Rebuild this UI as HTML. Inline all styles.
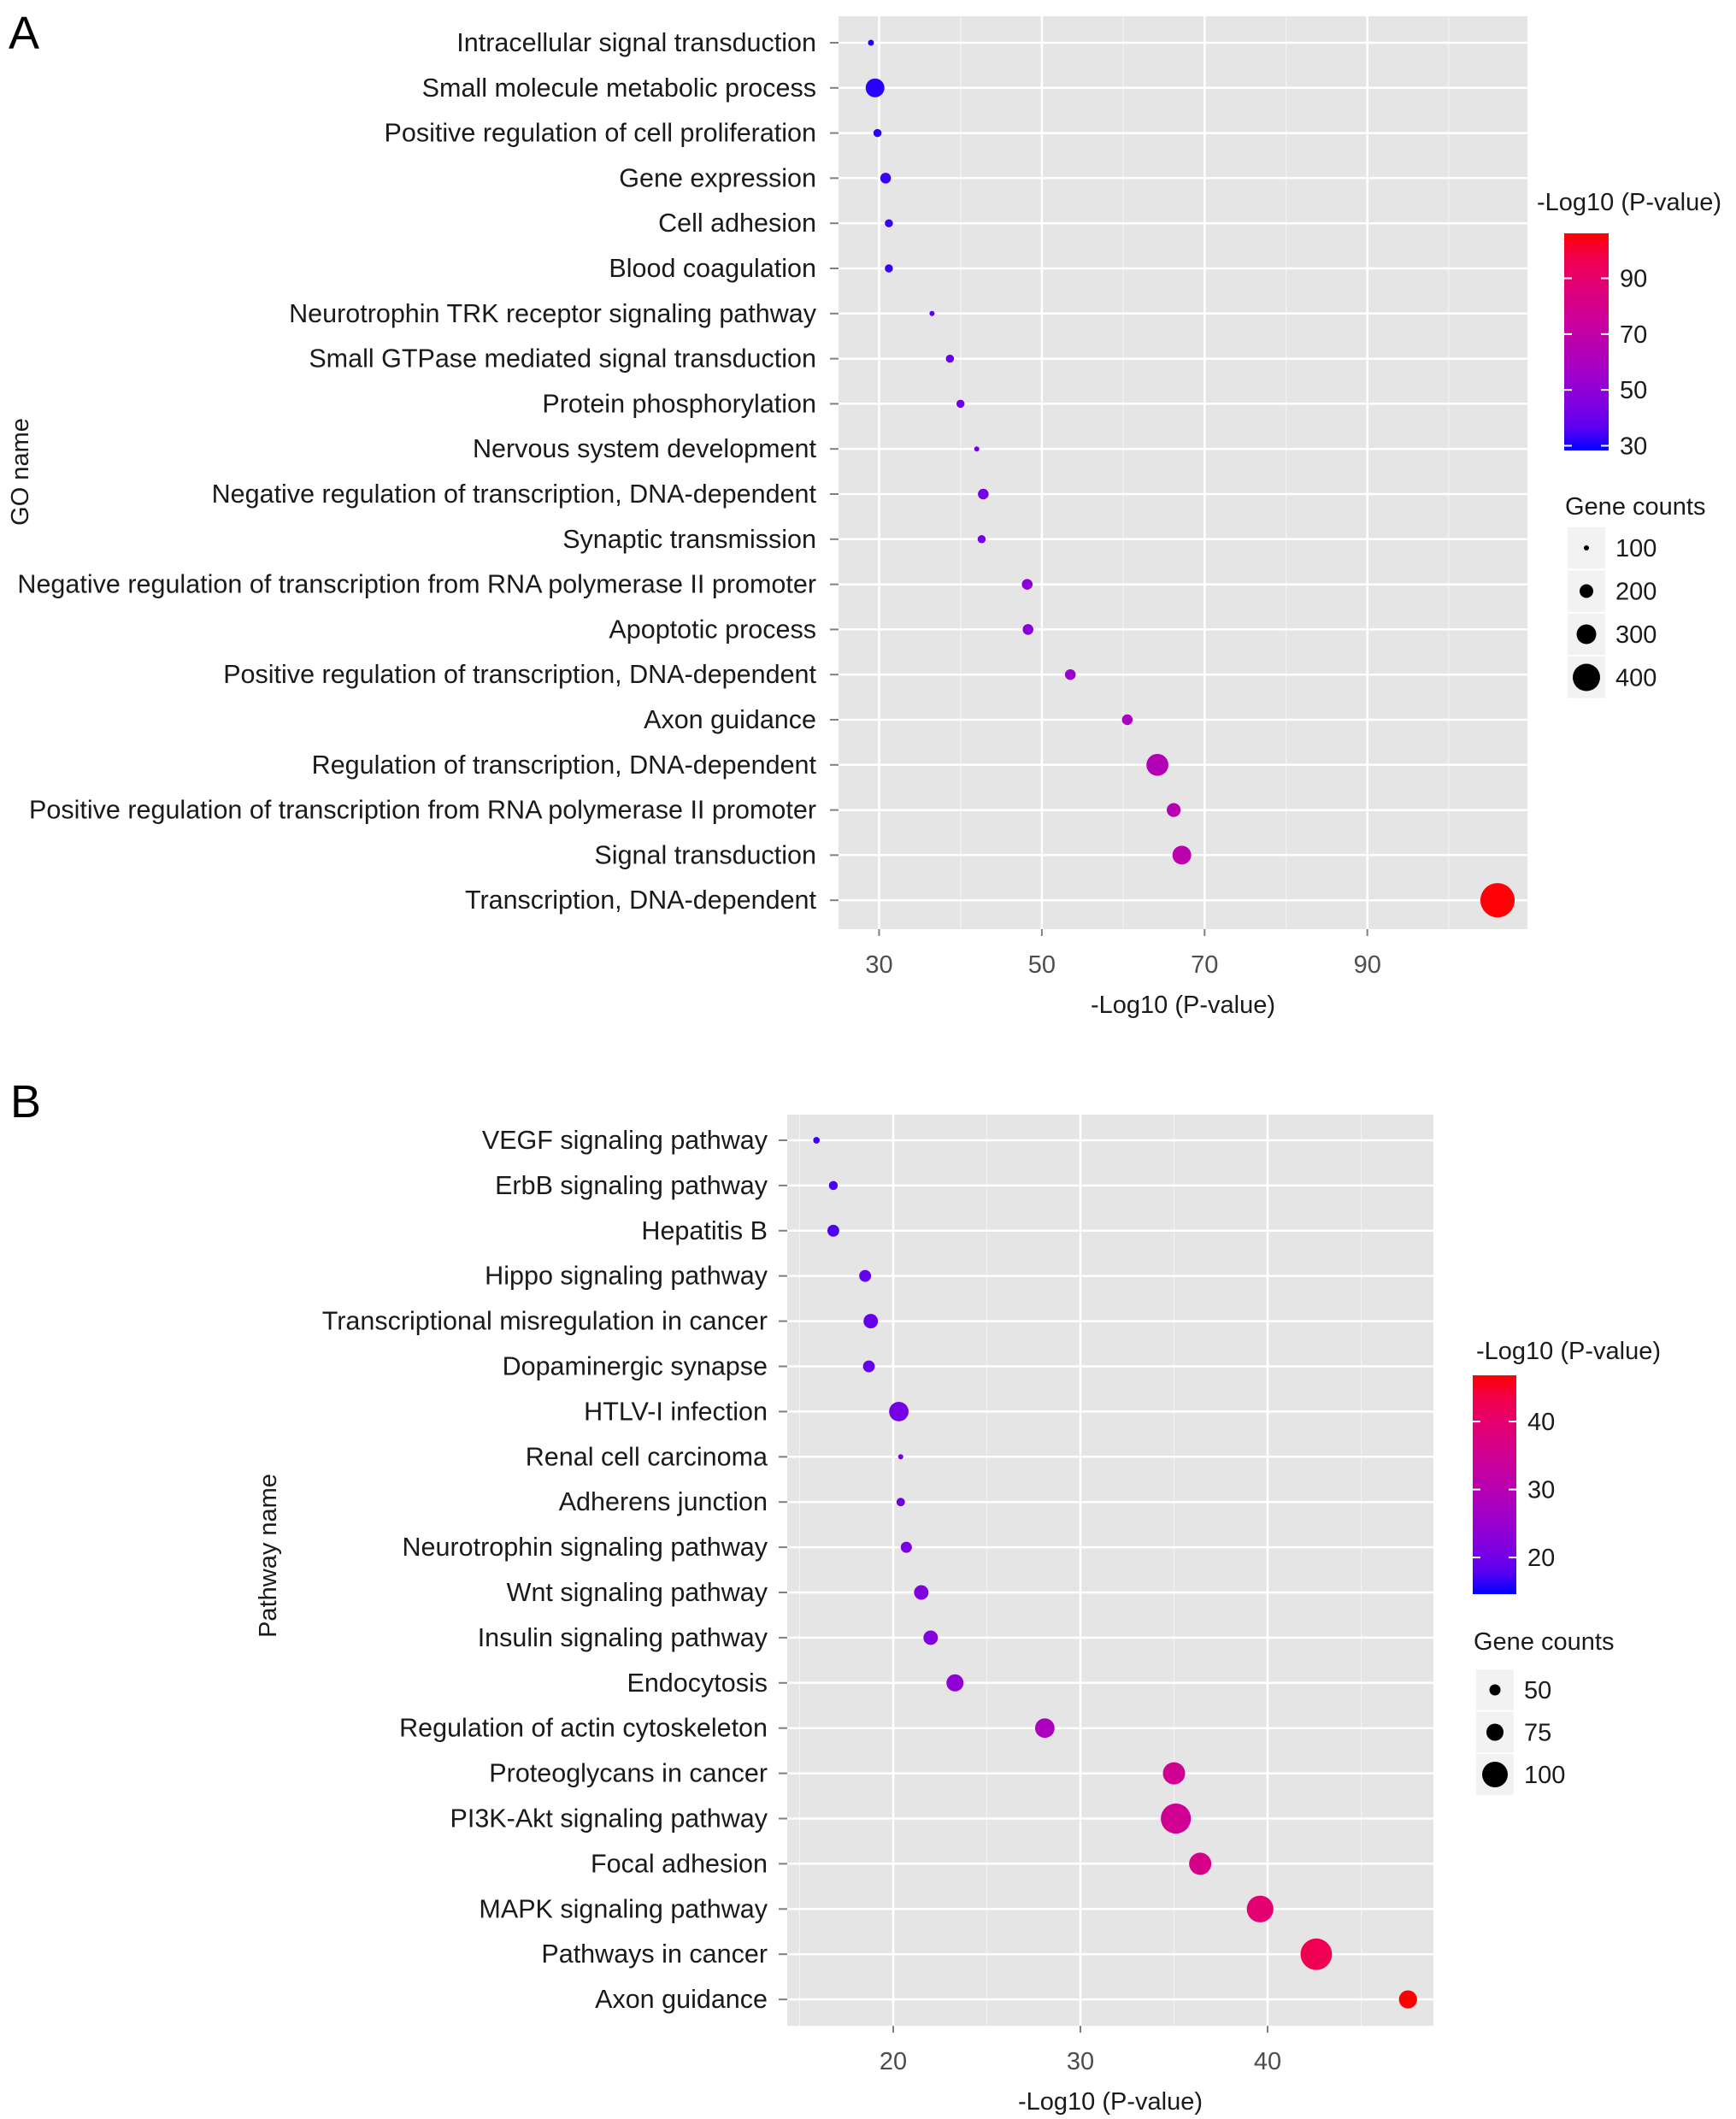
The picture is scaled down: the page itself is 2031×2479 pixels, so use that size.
<!DOCTYPE html>
<html><head><meta charset="utf-8"><style>
body{margin:0;background:#fff}
svg{display:block;font-family:"Liberation Sans",Arial,sans-serif}
</style></head><body>
<svg id="chart" width="2031" height="2479" viewBox="0 0 2031 2479" xmlns="http://www.w3.org/2000/svg">
<rect width="2031" height="2479" fill="#fff"/>
<g id="pa"></g>
<g id="pb"></g>
</svg>
<script>
const goTerms=["Intracellular signal transduction","Small molecule metabolic process","Positive regulation of cell proliferation","Gene expression","Cell adhesion","Blood coagulation","Neurotrophin TRK receptor signaling pathway","Small GTPase mediated signal transduction","Protein phosphorylation","Nervous system development","Negative regulation of transcription, DNA-dependent","Synaptic transmission","Negative regulation of transcription from RNA polymerase II promoter","Apoptotic process","Positive regulation of transcription, DNA-dependent","Axon guidance","Regulation of transcription, DNA-dependent","Positive regulation of transcription from RNA polymerase II promoter","Signal transduction","Transcription, DNA-dependent"];
const goLogP=[29,29.5,29.8,30.8,31.2,31.2,36.5,38.7,40,42,42.8,42.6,48.2,48.3,53.5,60.5,64.2,66.2,67.2,106];
const goCounts=[110,285,135,165,135,135,100,135,135,100,165,135,165,165,165,165,330,203,285,490];
const goTicks=[30,50,70,90];
const goColorTicks=[30,50,70,90];
const goSizeBreaks=[100,200,300,400];

const pwTerms=["VEGF signaling pathway","ErbB signaling pathway","Hepatitis B","Hippo signaling pathway","Transcriptional misregulation in cancer","Dopaminergic synapse","HTLV-I infection","Renal cell carcinoma","Adherens junction","Neurotrophin signaling pathway","Wnt signaling pathway","Insulin signaling pathway","Endocytosis","Regulation of actin cytoskeleton","Proteoglycans in cancer","PI3K-Akt signaling pathway","Focal adhesion","MAPK signaling pathway","Pathways in cancer","Axon guidance"];
const pwLogP=[15.9,16.8,16.8,18.5,18.8,18.7,20.3,20.4,20.4,20.7,21.5,22.0,23.3,28.1,35.0,35.1,36.4,39.6,42.6,47.5];
const pwCounts=[31,41,53,53,64,53,82,25,39,50,64,64,75,82,90,113,90,103,117,78];
const pwTicks=[20,30,40];
const pwColorTicks=[20,30,40];
const pwSizeBreaks=[50,75,100];

const NS="http://www.w3.org/2000/svg";
function el(tag,attrs,parent){const e=document.createElementNS(NS,tag);for(const k in attrs)e.setAttribute(k,attrs[k]);parent.appendChild(e);return e;}
function colorAt(t){t=Math.max(0,Math.min(1,t));const r=Math.round(255*Math.pow(t,0.45)),b=Math.round(255*Math.pow(1-t,0.55));return `rgb(${r},0,${b})`;}
function interp(pts,c){
  for(let i=0;i<pts.length-1;i++){if(c<=pts[i+1][0]||i==pts.length-2){const a=pts[i],b=pts[i+1];return Math.max(2,a[1]+(c-a[0])*(b[1]-a[1])/(b[0]-a[0]));}}
}
function panel(cfg){
  const g=document.getElementById(cfg.id);
  const xs=v=>cfg.x0+(v-cfg.v0)*cfg.k;
  const ys=i=>cfg.row0+i*cfg.rowStep;
  const bg=el('rect',{x:cfg.left,y:cfg.top,width:cfg.right-cfg.left,height:cfg.bottom-cfg.top,fill:'#e5e5e5'},g);
  
  
  const vStart=cfg.v0-Math.ceil((cfg.x0-cfg.left)/cfg.k/cfg.step)*cfg.step;
  for(let v=vStart;xs(v)<cfg.right;v+=cfg.step){
    const x=xs(v+cfg.step/2);
    if(x>cfg.left&&x<cfg.right){const l=el('line',{x1:x,x2:x,y1:cfg.top,y2:cfg.bottom,stroke:'#f2f2f2','stroke-width':1.3},g);
    
    }
  }
  cfg.ticks.forEach(v=>{const x=xs(v);
    const l=el('line',{x1:x,x2:x,y1:cfg.top,y2:cfg.bottom,stroke:'#fff','stroke-width':2.5},g);
    
    
    const tk=el('line',{x1:x,x2:x,y1:cfg.bottom,y2:cfg.bottom+8,stroke:'#7f7f7f','stroke-width':2},g);
    
    
    const t=el('text',{x:x,y:cfg.bottom+51,'text-anchor':'middle','font-size':29,fill:'#4d4d4d'},g);t.textContent=v;
    
    
  });
  cfg.terms.forEach((name,i)=>{const y=ys(i);
    const l=el('line',{x1:cfg.left,x2:cfg.right,y1:y,y2:y,stroke:'#fff','stroke-width':2.5},g);
    
    
    const tk=el('line',{x1:cfg.left-10,x2:cfg.left,y1:y,y2:y,stroke:'#7f7f7f','stroke-width':2},g);
    
    
    const t=el('text',{transform:`translate(${cfg.labelRight},${y+10}) scale(0.985,1)`,'text-anchor':'end','font-size':31,fill:'#1a1a1a'},g);t.textContent=name;
    
    
  });
  cfg.terms.forEach((name,i)=>{
    const t=(cfg.vals[i]-cfg.cmin)/(cfg.cmax-cfg.cmin);
    const c=el('circle',{cx:xs(cfg.vals[i]),cy:ys(i),r:interp(cfg.sizePts,cfg.counts[i]),fill:colorAt(t)},g);
    
    
  });
  const xt=el('text',{x:(cfg.left+cfg.right)/2,y:cfg.bottom+98,'text-anchor':'middle','font-size':29,fill:'#1a1a1a'},g);xt.textContent='-Log10 (P-value)';
  
  
  const yt=el('text',{transform:`translate(${cfg.yTitleX},${cfg.yTitleY}) rotate(-90)`,'text-anchor':'middle','font-size':29,fill:'#1a1a1a'},g);yt.textContent=cfg.yTitle;
  
  
  const pl=el('text',{x:cfg.letterX,y:cfg.letterY,'font-size':54,fill:'#000'},g);pl.textContent=cfg.letter;
  
  
  const L=cfg.leg;
  const lt=el('text',{x:L.titleX,y:L.titleY,'font-size':29,fill:'#1a1a1a'},g);lt.textContent='-Log10 (P-value)';
  
  
  const gid='grad'+cfg.id;
  const defs=el('defs',{},g);const lg=el('linearGradient',{id:gid,x1:0,y1:1,x2:0,y2:0},defs);
  for(let s=0;s<=10;s++)el('stop',{offset:s/10,'stop-color':colorAt(s/10)},lg);
  const bar=el('rect',{x:L.barX,y:L.barTop,width:L.barW,height:L.barBot-L.barTop,fill:`url(#${gid})`},g);
  
  
  const cy=v=>L.barBot-(v-cfg.cmin)/(cfg.cmax-cfg.cmin)*(L.barBot-L.barTop);
  cfg.cticks.forEach(v=>{const y=cy(v);
    el('line',{x1:L.barX,x2:L.barX+9,y1:y,y2:y,stroke:'#fff','stroke-width':2},g);
    el('line',{x1:L.barX+L.barW-9,x2:L.barX+L.barW,y1:y,y2:y,stroke:'#fff','stroke-width':2},g);
    const t=el('text',{x:L.barX+L.barW+13,y:y+10,'font-size':29,fill:'#1a1a1a'},g);t.textContent=v;
    
    
  });
  const st=el('text',{x:L.sTitleX,y:L.sTitleY,'font-size':29,fill:'#1a1a1a'},g);st.textContent='Gene counts';
  
  
  cfg.sbreaks.forEach((b,i)=>{const y=L.keyY0+i*L.keyStep;
    el('rect',{x:L.keyX-22,y:y-L.keyStep/2+1,width:44,height:L.keyStep-2,fill:'#f2f2f2'},g);
    const c=el('circle',{cx:L.keyX,cy:y,r:interp(cfg.sizePts,b),fill:'#000'},g);
    
    
    const t=el('text',{x:L.keyX+34,y:y+10,'font-size':29,fill:'#1a1a1a'},g);t.textContent=b;
    
    
  });
}
panel({id:'pa',terms:goTerms,vals:goLogP,counts:goCounts,ticks:goTicks,cticks:goColorTicks,sbreaks:goSizeBreaks,
  left:981,right:1787,top:19,bottom:1087,x0:1028.5,v0:30,k:9.52,step:20,row0:50,rowStep:52.8,labelRight:955,
  cmin:28.3,cmax:106.1,sizePts:[[100,3],[200,8],[300,11.5],[400,16]],
  yTitle:'GO name',yTitleX:33,yTitleY:552,letter:'A',letterX:10,letterY:57,
  leg:{titleX:1798,titleY:246,barX:1830,barW:52,barTop:273,barBot:527,sTitleX:1831,sTitleY:602,keyX:1856,keyY0:641,keyStep:50.5}});
panel({id:'pb',terms:pwTerms,vals:pwLogP,counts:pwCounts,ticks:pwTicks,cticks:pwColorTicks,sbreaks:pwSizeBreaks,
  left:921,right:1677,top:1304,bottom:2370,x0:1045,v0:20,k:21.9,step:10,row0:1334,rowStep:52.9,labelRight:898,
  cmin:14.6,cmax:46.8,sizePts:[[50,6.5],[75,10],[100,15]],
  yTitle:'Pathway name',yTitleX:323,yTitleY:1820,letter:'B',letterX:12,letterY:1307,
  leg:{titleX:1727,titleY:1590,barX:1723,barW:51,barTop:1609,barBot:1865,sTitleX:1724,sTitleY:1930,keyX:1749,keyY0:1977,keyStep:49.5}});
</script>
</body></html>
